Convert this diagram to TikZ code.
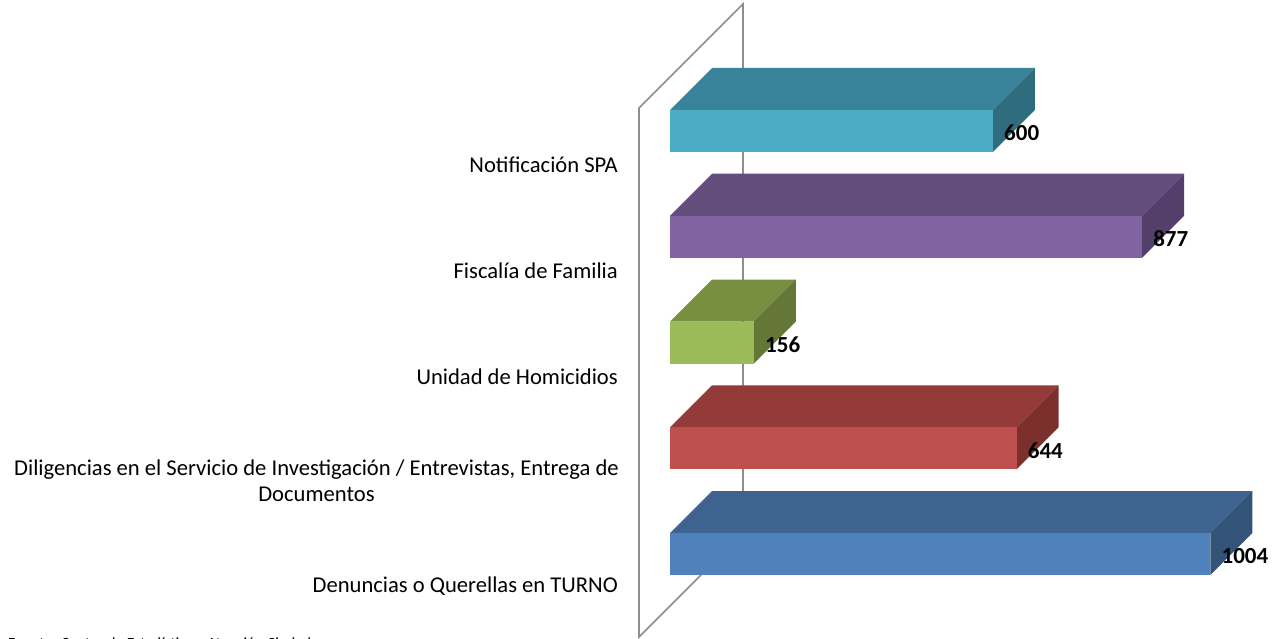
\documentclass[tikz,border=0pt]{standalone}
\usepackage{fontspec}
\setmainfont{Carlito}
\definecolor{wallgray}{HTML}{8E8E8E}
\definecolor{aquaF}{HTML}{4BACC6}\definecolor{aquaT}{HTML}{38839A}\definecolor{aquaS}{HTML}{2F6D7E}
\definecolor{purpF}{HTML}{8064A2}\definecolor{purpT}{HTML}{634D7D}\definecolor{purpS}{HTML}{533F69}
\definecolor{grnF}{HTML}{9BBB59}\definecolor{grnT}{HTML}{788F42}\definecolor{grnS}{HTML}{647736}
\definecolor{redF}{HTML}{C0504D}\definecolor{redT}{HTML}{943B39}\definecolor{redS}{HTML}{7C302E}
\definecolor{bluF}{HTML}{4F81BD}\definecolor{bluT}{HTML}{3E638E}\definecolor{bluS}{HTML}{345378}
\tikzset{
  wall/.style={draw=wallgray, line width=1.6pt, line join=miter},
  catlabel/.style={anchor=east, align=center, inner sep=0pt, font=\fontsize{22.6}{26}\selectfont},
  vallabel/.style={anchor=west, inner sep=0pt, font=\bfseries\fontsize{23}{26}\selectfont},
  footlabel/.style={anchor=base west, inner sep=0pt, font=\fontsize{15.6}{18}\selectfont},
}
% #1 front-top y, #2 value, #3 colour prefix, #4 name
\newcommand{\mybar}[4]{%
  \pgfmathsetmacro\xr{670+#2*0.5383}%
  \fill[#3T] (670,#1) -- (712,#1-42) -- (\xr+42,#1-42) -- (\xr,#1) -- cycle;
  \fill[#3S] (\xr,#1) -- (\xr+42,#1-42) -- (\xr+42,#1) -- (\xr,#1+42) -- cycle;
  \fill[#3F] (670,#1) rectangle (\xr,#1+42);
  \node[vallabel] (#4) at (\xr+11,#1+23) {#2};
}
\begin{document}
\begin{tikzpicture}[x=1pt,y=-1pt]
\useasboundingbox (0,0) rectangle (1276,639);
\clip (0,0) rectangle (1276,639);
% wall
\coordinate (wfb) at (639,637);
\coordinate (wft) at (639,108);
\coordinate (wbt) at (743,4);
\coordinate (wbb) at (743,533);
\draw[wall] (wfb) -- (wft) -- (wbt) -- (wbb) -- cycle;
% bars
\mybar{110}{600}{aqua}{v1}
\mybar{215.75}{877}{purp}{v2}
\mybar{321.5}{156}{grn}{v3}
\mybar{427.25}{644}{red}{v4}
\mybar{533}{1004}{blu}{v5}
% category labels
\node[catlabel] (c1) at (618,165) {Notificación SPA};
\node[catlabel] (c2) at (618,270.75) {Fiscalía de Familia};
\node[catlabel] (c3) at (618,376.5) {Unidad de Homicidios};
\node[catlabel] (c4) at (619,481) {Diligencias en el Servicio de Investigación / Entrevistas, Entrega de\\Documentos};
\node[catlabel] (c5) at (618,586) {Denuncias o Querellas en TURNO};
\node[footlabel] (src) at (8,648) {Fuente: Centro de Estadística y Atención Ciudadana};
\end{tikzpicture}
\end{document}
